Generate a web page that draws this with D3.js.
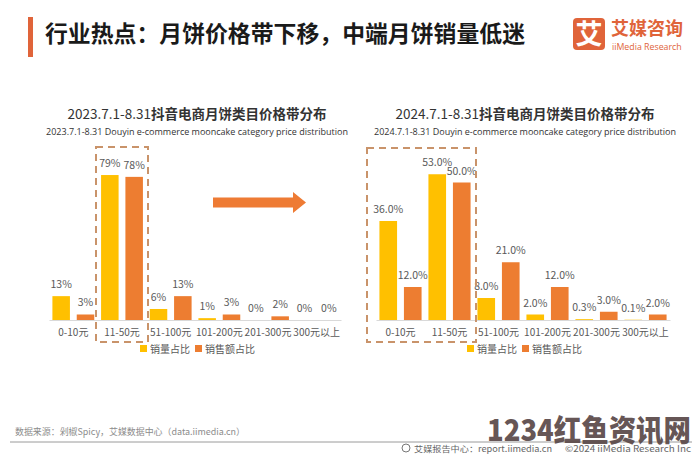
<!DOCTYPE html>
<html><head><meta charset="utf-8">
<script src="https://cdn.jsdelivr.net/npm/d3@7"></script>
<style>
body{margin:0;background:#fff;}
svg{display:block;font-family:"Noto Sans CJK SC","Noto Sans",sans-serif;}
</style></head>
<body><svg id="c" width="700" height="455"></svg>
<script>
const categories = ["0-10元","11-50元","51-100元","101-200元","201-300元","300元以上"];
const seriesNames = ["销量占比","销售额占比"];
const volume2023 = [13,79,6,1,0,0];
const sales2023 = [3,78,13,3,2,0];
const volume2024 = [36.0,53.0,8.0,2.0,0.3,0.1];
const sales2024 = [12.0,50.0,21.0,12.0,3.0,2.0];
const titleMain = "行业热点：月饼价格带下移，中端月饼销量低迷";
const chartTitles = [["2023.7.1-8.31","抖音电商月饼类目价格带分布"],["2024.7.1-8.31","抖音电商月饼类目价格带分布"]];
const chartSubtitles = ["2023.7.1-8.31 Douyin e-commerce mooncake category price distribution","2024.7.1-8.31 Douyin e-commerce mooncake category price distribution"];
const sourceText = "数据来源：剁椒Spicy，艾媒数据中心（data.iimedia.cn）";

const colors = ["#FFC000","#ED7D31"];
const svg = d3.select("#c");
svg.append("rect").attr("width",700).attr("height",455).attr("fill","#fff");

// header
svg.append("rect").attr("x",28).attr("y",17).attr("width",5).attr("height",40).attr("fill","#E0643A");
svg.append("text").attr("x",45).attr("y",42).attr("font-size",22.5).attr("font-weight",700).attr("fill","#1a1a1a")
  .attr("textLength",480).attr("lengthAdjust","spacingAndGlyphs").text(titleMain);
// logo
svg.append("rect").attr("x",573).attr("y",18).attr("width",32).attr("height",32).attr("rx",4).attr("fill","#E0643A");
svg.append("text").attr("x",589).attr("y",44).attr("text-anchor","middle").attr("font-size",27).attr("font-weight",700).attr("fill","#fff").text("艾");
svg.append("text").attr("x",611).attr("y",35).attr("font-size",18).attr("font-weight",700).attr("fill","#E0643A").text("艾媒咨询");
svg.append("text").attr("x",612).attr("y",49.5).attr("font-size",8.8).attr("fill","#E0643A").attr("font-family","Open Sans").text("iiMedia Research");

function drawChart(cfg){
  const g = svg.append("g");
  const x = d3.scaleBand().domain(categories).range(cfg.xr).paddingInner(0).paddingOuter(0);
  const x1 = d3.scaleBand().domain(seriesNames).range([0,x.bandwidth()]).paddingInner(0.28).paddingOuter(0.14);
  const y = d3.scaleLinear().domain(cfg.yd).range([320, cfg.ytop]);
  const cx = cfg.tx;
  const t = g.append("text").attr("x",cx).attr("y",119).attr("text-anchor","middle").attr("font-size",13.5).attr("fill","#333");
  t.append("tspan").attr("font-weight",400).text(cfg.title[0]);
  t.append("tspan").attr("font-weight",700).text(cfg.title[1]);
  g.append("text").attr("x",cx).attr("y",135).attr("text-anchor","middle").attr("font-size",9).attr("font-family","Open Sans").attr("fill","#333").text(cfg.sub);
  const data = categories.map((c,i)=>({c, vals:[cfg.a[i], cfg.b[i]]}));
  const grp = g.selectAll(".cat").data(data).join("g").attr("transform",d=>`translate(${x(d.c)},0)`);
  grp.selectAll("rect").data(d=>d.vals.map((v,j)=>({v,s:seriesNames[j],j}))).join("rect")
    .attr("x",d=>x1(d.s)).attr("width",x1.bandwidth())
    .attr("y",d=>y(d.v)).attr("height",d=>320-y(d.v)).attr("fill",d=>colors[d.j]);
  grp.selectAll("text").data(d=>d.vals.map((v,j)=>({v,s:seriesNames[j],j}))).join("text")
    .attr("x",d=>x1(d.s)+x1.bandwidth()/2).attr("y",d=>y(d.v)-8)
    .attr("text-anchor","middle").attr("font-size",10.5).attr("fill","#595959")
    .text(d=>cfg.fmt(d.v));
  const ax = g.append("g").attr("transform","translate(0,320)").call(d3.axisBottom(x).tickSize(0).tickPadding(9));
  ax.select(".domain").attr("stroke","#d9d9d9");
  ax.selectAll("text").attr("font-size",10).attr("fill","#595959").attr("font-family","Noto Sans CJK SC");
  g.append("rect").attr("x",cfg.box[0]).attr("y",cfg.box[1]).attr("width",cfg.box[2]-cfg.box[0]).attr("height",cfg.box[3]-cfg.box[1])
    .attr("fill","none").attr("stroke","#C9936A").attr("stroke-width",2).attr("stroke-dasharray","7,5");
  const lg = g.append("g").attr("transform",`translate(${cfg.lx},349)`);
  seriesNames.forEach((s,i)=>{
    const o = i*55;
    lg.append("rect").attr("x",o).attr("y",-4).attr("width",7).attr("height",7).attr("fill",colors[i]);
    lg.append("text").attr("x",o+10).attr("y",3.5).attr("font-size",10).attr("fill","#595959").text(s);
  });
}

drawChart({xr:[49,341], yd:[0,100], ytop:136.5, title:chartTitles[0], sub:chartSubtitles[0], tx:197,
  a:volume2023, b:sales2023, fmt:v=>d3.format(".0f")(v)+"%", box:[96,147,148,342], lx:140});
drawChart({xr:[376,670], yd:[0,60], ytop:155, title:chartTitles[1], sub:chartSubtitles[1], tx:525,
  a:volume2024, b:sales2024, fmt:v=>d3.format(".1f")(v)+"%", box:[367,148,476,342], lx:467});

// arrow
const arrowPts = [[213,197.5],[293,197.5],[293,192],[306,202.5],[293,213],[293,207.5],[213,207.5]];
svg.append("path").attr("d",d3.line()(arrowPts)+"Z").attr("fill","#EE7B34");

// footer
svg.append("text").attr("x",15).attr("y",435).attr("font-size",9).attr("fill","#8c8c8c")
  .attr("textLength",230).attr("lengthAdjust","spacingAndGlyphs").text(sourceText);
svg.append("line").attr("x1",10).attr("x2",692).attr("y1",442).attr("y2",442).attr("stroke","#9a9a9a").attr("stroke-width",1);
svg.append("text").attr("x",487).attr("y",441).attr("font-size",30).attr("font-weight",900).attr("fill","#5a4848").attr("opacity",0.92)
  .attr("textLength",204).attr("lengthAdjust","spacingAndGlyphs").text("1234红鱼资讯网");
svg.append("circle").attr("cx",406).attr("cy",448).attr("r",4).attr("fill","none").attr("stroke","#777");
svg.append("text").attr("x",414).attr("y",451.5).attr("font-size",8.5).attr("fill","#666")
  .attr("textLength",138).attr("lengthAdjust","spacingAndGlyphs").text("艾媒报告中心：report.iimedia.cn");
svg.append("text").attr("x",565).attr("y",451.5).attr("font-size",8.5).attr("fill","#666")
  .attr("textLength",126).attr("lengthAdjust","spacingAndGlyphs").text("©2024  iiMedia Research  Inc");
</script></body></html>
